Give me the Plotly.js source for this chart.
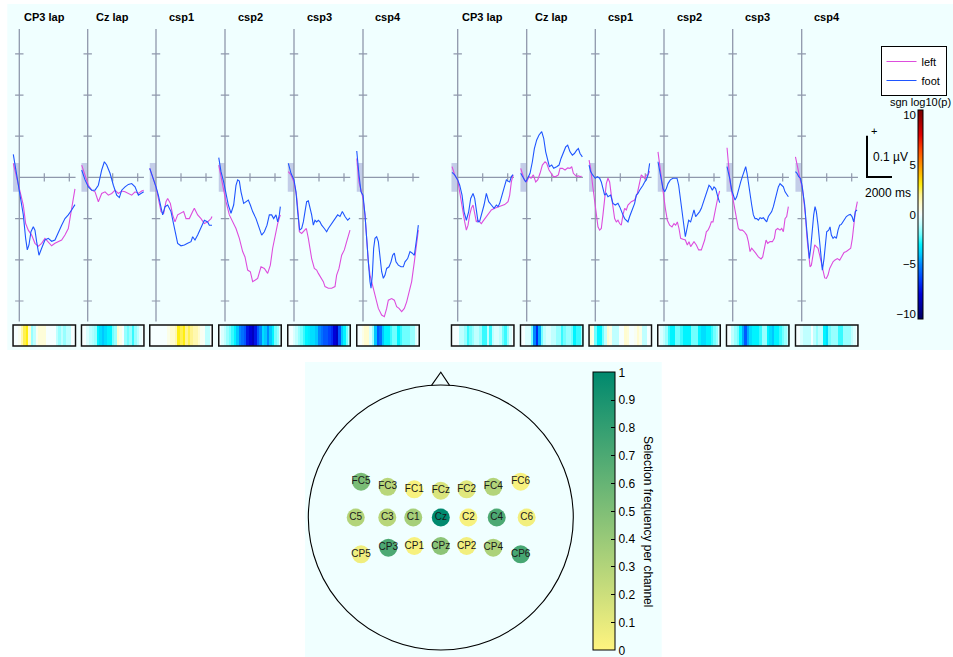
<!DOCTYPE html>
<html><head><meta charset="utf-8">
<script src="https://cdn.plot.ly/plotly-3.0.1.min.js"></script>
<style>html,body{margin:0;padding:0;background:#fff}#plot{width:953px;height:657px}</style>
</head><body><div id="plot"></div>
<script>
// ---------------- DATA ----------------
const panelTitles = ['CP3 lap','Cz lap','csp1','csp2','csp3','csp4','CP3 lap','Cz lap','csp1','csp2','csp3','csp4'];
const seriesNames = ['left','foot'];

// ERP curves: time (ms) and amplitude (µV)
const leftT1 = [-480,-213,53,320,507,720,987,1253,1520,1787,2053,2320,2587,2853,3120,3387,3653,3920,4053,4187,4400,4453];
const leftV1 = [0.034,0.002,-0.035,-0.067,-0.112,-0.128,-0.140,-0.160,-0.167,-0.160,-0.148,-0.156,-0.166,-0.160,-0.156,-0.152,-0.140,-0.124,-0.100,-0.075,-0.035,-0.028];
const footT1 = [-480,-213,53,320,507,640,773,933,1120,1253,1387,1573,1787,2053,2320,2587,2853,3120,3387,3653,3920,4187,4453];
const footV1 = [0.056,0.006,-0.039,-0.091,-0.148,-0.176,-0.164,-0.132,-0.120,-0.128,-0.156,-0.189,-0.172,-0.152,-0.148,-0.155,-0.152,-0.136,-0.116,-0.100,-0.091,-0.079,-0.066];

const leftT2 = [-480,-213,53,320,587,853,1120,1387,1653,1920,2187,2453,2720,2987,3253,3520,3787,4053,4320,4480];
const leftV2 = [0.030,0.006,-0.019,-0.031,-0.035,-0.059,-0.039,-0.035,-0.043,-0.039,-0.031,-0.039,-0.033,-0.035,-0.039,-0.043,-0.035,-0.039,-0.033,-0.031];
const footT2 = [-480,-213,53,320,587,853,1120,1333,1520,1787,2053,2320,2533,2720,2987,3253,3520,3787,4053,4320,4480];
const footV2 = [0.018,-0.006,-0.023,-0.031,-0.031,-0.019,0.018,0.038,0.030,0.010,-0.019,-0.043,-0.049,-0.031,-0.023,-0.017,-0.015,-0.023,-0.043,-0.039,-0.035];

const leftT3 = [-500,-267,0,187,400,613,800,933,1147,1333,1520,1733,2000,2213,2400,2667,2933,3067,3333,3600,3867,4133,4400,4480];
const leftV3 = [0.022,0.002,-0.023,-0.051,-0.083,-0.087,-0.059,-0.051,-0.063,-0.091,-0.108,-0.091,-0.087,-0.083,-0.100,-0.100,-0.083,-0.075,-0.091,-0.100,-0.112,-0.108,-0.100,-0.095];
const footT3 = [-500,-267,0,187,400,533,720,933,1200,1413,1600,1733,2000,2267,2533,2800,2933,3120,3333,3600,3867,4133,4267,4480];
const footV3 = [0.022,0.002,-0.023,-0.043,-0.075,-0.091,-0.071,-0.067,-0.083,-0.116,-0.136,-0.160,-0.166,-0.164,-0.160,-0.156,-0.144,-0.152,-0.140,-0.124,-0.104,-0.108,-0.116,-0.116];

const leftT4 = [-500,-320,-107,80,347,613,880,1147,1413,1600,1813,2027,2213,2427,2613,2880,3147,3413,3627,3813,4000,4213,4427];
const leftV4 = [0.030,0.002,-0.023,-0.059,-0.091,-0.108,-0.124,-0.148,-0.180,-0.193,-0.225,-0.229,-0.253,-0.249,-0.245,-0.217,-0.221,-0.233,-0.213,-0.172,-0.140,-0.112,-0.091];
const footT4 = [-500,-320,-107,80,267,480,693,880,1013,1147,1280,1493,1680,1867,2027,2213,2480,2747,2933,3147,3360,3547,3733,3893,4080,4213,4347,4427];
const footV4 = [0.048,0.014,-0.011,-0.039,-0.067,-0.087,-0.067,-0.019,-0.006,-0.009,-0.035,-0.063,-0.059,-0.055,-0.067,-0.083,-0.100,-0.124,-0.140,-0.132,-0.116,-0.091,-0.091,-0.100,-0.091,-0.108,-0.091,-0.071];

const leftT5 = [-453,-240,0,213,347,427,613,827,987,1147,1280,1413,1627,1813,1947,2160,2347,2480,2747,3013,3280,3413,3600,3813,4027,4213,4480];
const leftV5 = [0.014,0.006,-0.011,-0.047,-0.091,-0.132,-0.136,-0.128,-0.124,-0.148,-0.172,-0.197,-0.221,-0.225,-0.233,-0.245,-0.253,-0.265,-0.269,-0.269,-0.265,-0.237,-0.221,-0.189,-0.176,-0.156,-0.128];
const footT5 = [-453,-240,0,160,293,453,613,747,880,1013,1147,1280,1413,1547,1680,1813,1947,2080,2213,2427,2613,2747,3013,3280,3493,3680,3867,4080,4293,4480];
const footV5 = [0.034,0.010,-0.006,-0.035,-0.083,-0.128,-0.124,-0.108,-0.083,-0.059,-0.057,-0.071,-0.091,-0.116,-0.104,-0.108,-0.104,-0.108,-0.116,-0.124,-0.132,-0.124,-0.112,-0.100,-0.091,-0.095,-0.083,-0.095,-0.104,-0.098];

const leftT6 = [-500,-427,-320,-160,0,160,293,427,560,693,827,1013,1227,1493,1707,1893,2027,2293,2507,2693,2880,3093,3307,3493,3680,3893,4107,4293,4427];
const leftV6 = [0.046,0.014,-0.011,-0.031,-0.051,-0.091,-0.156,-0.205,-0.237,-0.253,-0.269,-0.286,-0.318,-0.334,-0.338,-0.318,-0.298,-0.294,-0.298,-0.314,-0.318,-0.326,-0.318,-0.302,-0.278,-0.253,-0.205,-0.164,-0.128];
const footT6 = [-500,-427,-320,-160,0,160,293,427,560,640,747,853,960,1093,1227,1360,1493,1627,1760,1893,2080,2240,2373,2507,2640,2827,3040,3227,3360,3573,3760,3947,4107,4293,4427];
const footV6 = [0.064,0.046,0.006,-0.035,-0.043,-0.091,-0.156,-0.205,-0.253,-0.269,-0.237,-0.172,-0.148,-0.144,-0.156,-0.197,-0.229,-0.245,-0.237,-0.221,-0.217,-0.205,-0.189,-0.184,-0.205,-0.213,-0.217,-0.217,-0.205,-0.197,-0.180,-0.184,-0.189,-0.148,-0.116];

const leftT7 = [-453,-240,0,160,293,427,560,693,827,960,1093,1227,1360,1493,1627,1760,1893,2027,2160,2427,2693,2960,3227,3493,3760,4027,4160,4293,4427];
const leftV7 = [0.026,0.006,-0.006,-0.035,-0.067,-0.091,-0.108,-0.128,-0.116,-0.091,-0.075,-0.067,-0.091,-0.108,-0.104,-0.109,-0.112,-0.106,-0.100,-0.091,-0.079,-0.075,-0.071,-0.069,-0.066,-0.059,-0.043,-0.011,0.006];
const footT7 = [-453,-240,0,160,347,507,693,880,1040,1227,1360,1493,1627,1760,1893,2107,2293,2480,2693,2907,3093,3227,3360,3547,3760,3893,4027,4160,4293,4427];
const footV7 = [0.012,0.006,-0.006,-0.019,-0.043,-0.083,-0.104,-0.083,-0.051,-0.039,-0.051,-0.083,-0.108,-0.106,-0.091,-0.067,-0.039,-0.059,-0.067,-0.075,-0.067,-0.071,-0.063,-0.043,-0.019,-0.006,-0.009,-0.011,0.002,0.007];

const leftT8 = [-480,-347,-187,0,187,347,533,720,880,1067,1253,1467,1600,1787,2000,2133,2320,2533,2667,2853,3067,3280,3467,3600,3733,3867,4000,4133,4267,4400];
const leftV8 = [0.022,0.006,-0.006,-0.011,0.002,-0.002,0.006,-0.011,-0.006,0.010,0.030,0.038,0.034,0.018,0.006,0.002,0.002,0.006,0.022,0.022,0.018,0.023,0.022,0.026,0.010,0.006,0.002,0.004,0.002,0.003];
const footT8 = [-480,-347,-187,-80,80,267,453,613,800,987,1200,1360,1520,1680,1813,2000,2160,2400,2587,2747,2933,3120,3280,3467,3653,3813,4000,4133,4267,4453];
const footV8 = [0.010,0.002,-0.006,-0.011,-0.002,0.010,0.038,0.070,0.091,0.103,0.111,0.095,0.062,0.038,0.026,0.030,0.022,0.026,0.030,0.046,0.062,0.074,0.078,0.062,0.054,0.058,0.066,0.070,0.058,0.050];

const leftT9 = [-500,-373,-213,-53,107,213,347,480,613,747,880,1013,1147,1280,1413,1547,1680,1813,1947,2080,2213,2347,2480,2613,2880,3147,3360,3547,3680,3813,3947,4080,4213,4347];
const leftV9 = [0.042,0.022,-0.019,-0.059,-0.091,-0.120,-0.128,-0.124,-0.091,-0.051,-0.015,-0.002,-0.011,-0.043,-0.075,-0.100,-0.108,-0.104,-0.112,-0.116,-0.091,-0.075,-0.079,-0.067,-0.059,-0.055,-0.039,-0.011,0.006,0.002,-0.002,0.006,0.006,0.015];
const footT9 = [-500,-373,-213,0,160,347,480,613,747,880,1013,1227,1413,1600,1813,1947,2080,2213,2347,2480,2613,2747,2880,3013,3147,3280,3413,3547,3680,3813,3947,4080,4213,4347];
const footV9 = [0.030,0.014,0.006,-0.002,0.002,-0.002,-0.011,-0.027,-0.043,-0.039,-0.047,-0.043,-0.063,-0.067,-0.063,-0.071,-0.083,-0.091,-0.100,-0.104,-0.108,-0.095,-0.083,-0.075,-0.063,-0.043,-0.039,-0.031,-0.023,-0.019,-0.011,-0.006,0.006,0.034];

const leftT10 = [-480,-347,-213,-53,107,267,453,640,800,933,1067,1200,1333,1520,1707,1867,2000,2133,2267,2400,2587,2773,2987,3120,3253,3387,3520,3653,3787,3920,4053,4187,4320,4453];
const leftV10 = [0.062,0.030,-0.011,-0.043,-0.075,-0.104,-0.116,-0.120,-0.112,-0.116,-0.108,-0.124,-0.148,-0.150,-0.152,-0.164,-0.156,-0.168,-0.160,-0.156,-0.164,-0.176,-0.176,-0.164,-0.152,-0.132,-0.128,-0.120,-0.108,-0.108,-0.091,-0.067,-0.047,-0.033];
const footT10 = [-480,-347,-213,-80,53,187,320,507,720,907,1040,1173,1307,1467,1600,1707,1840,1973,2133,2267,2400,2533,2667,2853,2987,3147,3307,3467,3600,3733,3867,4000,4133,4267,4400,4453];
const footV10 = [0.038,0.018,-0.011,-0.027,-0.035,-0.027,-0.015,-0.006,-0.002,-0.001,-0.002,-0.019,-0.051,-0.091,-0.132,-0.144,-0.124,-0.104,-0.108,-0.091,-0.079,-0.095,-0.091,-0.083,-0.075,-0.059,-0.043,-0.031,-0.019,-0.023,-0.031,-0.023,-0.027,-0.043,-0.059,-0.061];

const leftT11 = [-453,-347,-213,-80,53,187,320,453,587,773,933,1120,1253,1387,1520,1653,1840,2053,2267,2400,2533,2667,2800,2987,3173,3333,3440,3600,3787,3920,4053,4187,4320,4453];
const leftV11 = [0.072,0.030,-0.011,-0.035,-0.059,-0.083,-0.108,-0.124,-0.128,-0.128,-0.132,-0.140,-0.156,-0.180,-0.172,-0.176,-0.184,-0.193,-0.198,-0.193,-0.172,-0.152,-0.160,-0.156,-0.156,-0.148,-0.128,-0.124,-0.128,-0.124,-0.132,-0.100,-0.095,-0.071];
const footT11 = [-453,-347,-213,-80,53,187,320,507,640,773,880,1040,1147,1253,1387,1520,1653,1787,1920,2053,2187,2320,2453,2587,2720,2853,2987,3120,3253,3387,3520,3653,3787,3920,4053,4187,4320,4453];
const footV11 = [0.026,0.014,-0.006,-0.031,-0.043,-0.055,-0.047,-0.023,-0.011,0.002,0.014,0.026,0.010,-0.015,-0.039,-0.067,-0.091,-0.100,-0.100,-0.104,-0.098,-0.100,-0.098,-0.104,-0.108,-0.095,-0.087,-0.083,-0.071,-0.051,-0.039,-0.023,-0.015,-0.019,-0.023,-0.035,-0.043,-0.047];

const leftT12 = [-500,-373,-240,-80,53,160,293,427,560,667,773,907,1040,1173,1307,1440,1573,1707,1840,1973,2107,2240,2373,2507,2640,2853,3040,3227,3387,3573,3760,3920,4053,4160,4293,4453];
const leftV12 = [0.050,0.030,0.006,-0.011,-0.023,-0.051,-0.091,-0.148,-0.197,-0.217,-0.213,-0.189,-0.164,-0.168,-0.172,-0.189,-0.209,-0.233,-0.244,-0.245,-0.237,-0.221,-0.213,-0.205,-0.201,-0.197,-0.201,-0.189,-0.182,-0.180,-0.176,-0.172,-0.148,-0.116,-0.083,-0.059];
const footT12 = [-500,-373,-240,-107,0,107,240,373,507,613,720,827,960,1067,1173,1307,1440,1547,1653,1787,1893,2000,2160,2267,2373,2507,2640,2773,2907,3040,3173,3307,3440,3573,3760,3893,4027,4160,4293,4427];
const footV12 = [0.014,0.010,0.002,-0.002,-0.015,-0.035,-0.067,-0.116,-0.164,-0.197,-0.172,-0.124,-0.091,-0.071,-0.083,-0.116,-0.164,-0.205,-0.225,-0.197,-0.156,-0.132,-0.128,-0.120,-0.140,-0.148,-0.144,-0.148,-0.128,-0.116,-0.114,-0.108,-0.100,-0.095,-0.091,-0.090,-0.095,-0.108,-0.083,-0.079];

// significance strips: sgn log10(p) per 200 ms bin (bin centres in ms)
const stripTimes = [-400,-200,0,200,400,600,800,1000,1200,1400,1600,1800,2000,2200,2400,2600,2800,3000,3200,3400,3600,3800,4000,4200,4400];
const strip1  = [0,0,0.3,1.5,2.5,3,1,-1.5,-1,0.3,0.8,0.8,0.8,0,0,0,0,-1,-1.5,-1,-1.5,-1,-1,0,0];
const strip2  = [0,0,-0.5,-1,-1.2,-1.5,-3,-3.5,-4,-3.5,-3,-3,-2,-1.5,1,0.5,0,-1.5,-2,-1.5,-2.5,-1.5,-1,-0.3,0];
const strip3  = [0,0,0,0,0,0,0,0.5,1,1,1.5,3,2.5,3,2,2.5,2,1.5,1.5,1,0.3,0.2,-1,-1,0];
const strip4  = [0,-0.5,-1,-1.5,-2,-2.5,-3,-4,-5,-5.5,-6,-7.5,-8,-8.5,-7.5,-6,-5,-3.5,-4,-5,-4,-3,-2,-1.5,-0.5];
const strip5  = [0,0,-0.5,-1,-1.5,-2,-2.5,-3,-3.2,-3.5,-3.5,-4,-5,-5.5,-6,-6,-6.5,-7,-8,-8.5,-6,-4,-3,-2,-1];
const strip6  = [0,0,0.5,1,1,-0.5,-1.5,-4,-6,-5.5,-4,-3,-3,-2.5,-2,-2,-3,-2.5,-2,-2,-2,-1.5,-1.5,-0.5,0];
const strip7  = [0,0,0,-1,-1,-1.5,-2.5,-2,-1.5,-1,-1,-1.5,-2.5,-2.5,-1,-2.5,-1,-0.5,-0.5,-1,-2,-2.5,-1.5,-0.5,0];
const strip8  = [0,0,-0.5,-0.5,-2,-5,-7,-4.5,-2,-1,-0.5,-0.5,-1,-1,-1.5,-1.5,-2.5,-2,-1.5,-1.5,-2,-3,-2.5,-2.5,-1.5];
const strip9  = [0.8,0.5,-2,-3,-3,-2,-1,1,0.5,-1,-1,-1,0,0,1,0.8,0,0,0.3,1,0.5,-1,-1,0,0];
const strip10 = [0,-0.5,-1,-1.5,-2.5,-3,-3,-2,-2,-2.5,-3,-3,-3,-2,-2,-2,-3,-3.5,-3.5,-3,-3,-2.5,-2,-1.5,-0.5];
const strip11 = [0,0,-1,-1.5,-2,-3,-4.5,-6,-4.5,-3.5,-3,-3,-3,-2.5,-1.5,-1.5,-3,-3.5,-4,-3,-3,-2.5,-2,-1.5,-1];
const strip12 = [0,0,-0.5,-1,-1,-1,0,-1,-1.5,-1,-1,-3,-3.5,-2,-1.5,-1.5,-1.5,-2.5,-2.5,-1.5,-1.5,-1.5,-1,-0.5,0];
const sigTicks = [-10,-5,0,5,10];
const sigTickText = ['\u221210','\u22125','0','5','10'];

// scale bar
const scaleBarMs = 2000;
const scaleBarUv = 0.1;

// electrode selection frequency (head coordinates, radius 1)
const elecNames = ['FC5','FC3','FC1','FCz','FC2','FC4','FC6','C5','C3','C1','Cz','C2','C4','C6','CP5','CP3','CP1','CPz','CP2','CP4','CP6'];
const elecX = [-0.602,-0.401,-0.200,0.0,0.195,0.396,0.603,-0.642,-0.404,-0.208,0.0,0.208,0.422,0.648,-0.602,-0.396,-0.200,0.0,0.195,0.396,0.603];
const elecY = [0.270,0.232,0.213,0.202,0.213,0.232,0.270,0,0,0,0,0,0,0,-0.278,-0.228,-0.215,-0.215,-0.215,-0.228,-0.278];
const elecFreq = [0.52,0.28,0.03,0.15,0.12,0.30,0.03,0.30,0.28,0.35,1.0,0.03,0.70,0.05,0.06,0.70,0.03,0.45,0.05,0.32,0.72];
const freqTicks = [0,0.1,0.2,0.3,0.4,0.5,0.6,0.7,0.8,0.9,1];
const freqTickText = ['0','0.1','0.2','0.3','0.4','0.5','0.6','0.7','0.8','0.9','1'];

// ---------------- LAYOUT HELPERS ----------------
const W = 953, H = 657;
const fx = p => p / W;
const fy = p => 1 - p / H;
const FONT = 'Liberation Sans, Arial, Helvetica, sans-serif';
const axisCol = '#8f98ac';
const magenta = '#dd4ddd';
const blue = '#1f55ff';
const axisPx = [19.3, 87.7, 156, 225, 294, 363, 457.7, 526.7, 595.3, 664, 732.7, 801.7];
const leftT = [leftT1,leftT2,leftT3,leftT4,leftT5,leftT6,leftT7,leftT8,leftT9,leftT10,leftT11,leftT12];
const leftV = [leftV1,leftV2,leftV3,leftV4,leftV5,leftV6,leftV7,leftV8,leftV9,leftV10,leftV11,leftV12];
const footT = [footT1,footT2,footT3,footT4,footT5,footT6,footT7,footT8,footT9,footT10,footT11,footT12];
const footV = [footV1,footV2,footV3,footV4,footV5,footV6,footV7,footV8,footV9,footV10,footV11,footV12];
const strips = [strip1,strip2,strip3,strip4,strip5,strip6,strip7,strip8,strip9,strip10,strip11,strip12];
const vTicks = [-0.3,-0.2,-0.1,0.1,0.2,0.3];
const tTicks = [2000,4000];

const nz = v => (v + 10.5) / 21;
const sigScale = [
  [0,'#000060'],[nz(-10),'#000078'],[nz(-8),'#0000d8'],[nz(-6.5),'#0040ff'],
  [nz(-5),'#0088ff'],[nz(-4),'#00c8ff'],[nz(-3),'#00f4ff'],[nz(-2),'#70ffff'],
  [nz(-1),'#c0ffff'],[nz(0),'#f6ffff'],[nz(1),'#fffcd0'],[nz(2),'#fff490'],
  [nz(3),'#ffee10'],[nz(4),'#ffc000'],[nz(5),'#ff9000'],[nz(6.5),'#ff4800'],
  [nz(8),'#e00000'],[nz(10),'#880000'],[1,'#7a0000']
];
const freqScale = [[0,'#fff47f'],[1,'#00896e']];

const hidden = {showgrid:false, zeroline:false, showticklabels:false, ticks:'', showline:false, fixedrange:true};
const an = n => (n === 1 ? '' : String(n));

const layout = {
  width: W, height: H,
  margin: {l:0, r:0, t:0, b:0, pad:0},
  paper_bgcolor: '#ffffff', plot_bgcolor: 'rgba(0,0,0,0)',
  font: {family: FONT, size: 11, color: '#000'},
  hovermode: false,
  showlegend: true,
  legend: {x: fx(880.5), y: fy(46), xanchor:'left', yanchor:'top', bgcolor:'#ffffff',
           bordercolor:'#000', borderwidth:1, font:{family:FONT, size:11, color:'#000'},
           tracegroupgap:0, itemwidth:30},
  shapes: [], annotations: []
};

// background panels
layout.shapes.push({type:'rect', xref:'paper', yref:'paper', x0:fx(7.3), x1:1, y0:fy(350), y1:fy(4),
  fillcolor:'#f0ffff', line:{width:0}, layer:'below'});
layout.shapes.push({type:'rect', xref:'paper', yref:'paper', x0:fx(305), x1:fx(661.7), y0:0, y1:fy(362),
  fillcolor:'#f0ffff', line:{width:0}, layer:'below'});

const traces = [];
for (let i = 0; i < 12; i++) {
  const n = i + 1, ns = 13 + i;
  const xa = 'x' + an(n), ya = 'y' + an(n), ys = 'y' + ns;
  const a = axisPx[i];
  layout['xaxis' + an(n)] = Object.assign({}, hidden, {domain:[fx(a - 7.5), fx(a + 57.5)], range:[-600, 4600], anchor: ya});
  layout['yaxis' + an(n)] = Object.assign({}, hidden, {domain:[fy(325.7), fy(25)], range:[-0.36, 0.37], anchor: xa});
  layout['yaxis' + ns] = Object.assign({}, hidden, {domain:[fy(348.1), fy(322.9)], range:[-0.1, 1.1], anchor: xa});

  layout.shapes.push({type:'rect', xref:xa, yref:ya, x0:-500, x1:0, y0:-0.035, y1:0.035,
    fillcolor:'#c3cde8', line:{width:0}, layer:'below'});
  layout.shapes.push({type:'line', xref:xa, yref:ya, x0:0, x1:0, y0:-0.35, y1:0.36,
    line:{color:axisCol, width:1.3}, layer:'below'});
  layout.shapes.push({type:'line', xref:xa, yref:ya, x0:0, x1:4500, y0:0, y1:0,
    line:{color:axisCol, width:1.3}, layer:'below'});
  layout.shapes.push({type:'rect', xref:xa, yref:ys, x0:-500, x1:4500, y0:0, y1:1,
    line:{color:'#111', width:1.5}, fillcolor:'rgba(0,0,0,0)', layer:'above'});

  layout.annotations.push({xref:xa, yref:'paper', x:2000, y:fy(17.5), text:'<b>' + panelTitles[i] + '</b>',
    showarrow:false, font:{family:FONT, size:11, color:'#000'}, xanchor:'center', yanchor:'middle'});

  traces.push({type:'scatter', mode:'markers', xaxis:xa, yaxis:ya, x:vTicks.map(() => 0), y:vTicks,
    marker:{symbol:'line-ew', size:6, line:{width:1.2, color:axisCol}}, showlegend:false, hoverinfo:'skip'});
  traces.push({type:'scatter', mode:'markers', xaxis:xa, yaxis:ya, x:tTicks, y:tTicks.map(() => 0),
    marker:{symbol:'line-ns', size:6, line:{width:1.2, color:axisCol}}, showlegend:false, hoverinfo:'skip'});

  traces.push({type:'scatter', mode:'lines', xaxis:xa, yaxis:ya, x:leftT[i], y:leftV[i], name:seriesNames[0],
    line:{color:magenta, width:1.1}, showlegend: i === 0, legendgroup:'left'});
  traces.push({type:'scatter', mode:'lines', xaxis:xa, yaxis:ya, x:footT[i], y:footV[i], name:seriesNames[1],
    line:{color:blue, width:1.1}, showlegend: i === 0, legendgroup:'foot'});

  const hm = {type:'heatmap', xaxis:xa, yaxis:ys, x:stripTimes, y:[0.5], z:[strips[i]],
    zmin:-10.5, zmax:10.5, colorscale:sigScale, zsmooth:false, showscale: i === 0, hoverinfo:'skip'};
  if (i === 0) {
    hm.colorbar = {x:fx(918), xanchor:'left', xpad:0, y:fy(110), yanchor:'top', ypad:0,
      len:209, lenmode:'pixels', thickness:5, thicknessmode:'pixels',
      outlinewidth:1, outlinecolor:'#000', showticklabels:false, ticks:''};
  }
  traces.push(hm);
}

// label axis for the significance colour bar
layout.xaxis25 = Object.assign({}, hidden, {domain:[fx(918), fx(923)], range:[0,1], anchor:'y25'});
layout.yaxis25 = Object.assign({}, hidden, {domain:[fy(319), fy(110)], range:[-10.5,10.5], anchor:'x25',
  side:'left', showticklabels:true, tickmode:'array', tickvals:sigTicks, ticktext:sigTickText,
  tickfont:{family:FONT, size:11.5, color:'#000'}, ticklabelstandoff:1});
traces.push({type:'scatter', mode:'markers', xaxis:'x25', yaxis:'y25', x:[null], y:[null], showlegend:false, hoverinfo:'skip'});
layout.annotations.push({xref:'paper', yref:'paper', x:fx(920), y:fy(102), text:'sgn log10(p)', showarrow:false,
  font:{family:FONT, size:11, color:'#000'}, xanchor:'center', yanchor:'middle'});

// scale bar
layout.xaxis26 = Object.assign({}, hidden, {domain:[fx(864.5), fx(897)], range:[-200, 2400], anchor:'y26'});
layout.yaxis26 = Object.assign({}, hidden, {domain:[fy(181.1), fy(131.7)], range:[-0.01, 0.11], anchor:'x26'});
traces.push({type:'scatter', mode:'lines', xaxis:'x26', yaxis:'y26', x:[0, 0, scaleBarMs], y:[scaleBarUv, 0, 0],
  line:{color:'#000', width:2}, showlegend:false, hoverinfo:'skip'});
layout.annotations.push({xref:'paper', yref:'paper', x:fx(873.5), y:fy(130.5), text:'+', showarrow:false,
  font:{family:FONT, size:11, color:'#000'}, xanchor:'center', yanchor:'middle'});
layout.annotations.push({xref:'paper', yref:'paper', x:fx(870.5), y:fy(156.5), text:'0.1 \u00b5V', showarrow:false,
  font:{family:FONT, size:12, color:'#000'}, xanchor:'left', yanchor:'middle'});
layout.annotations.push({xref:'paper', yref:'paper', x:fx(887.5), y:fy(192.5), text:'2000 ms', showarrow:false,
  font:{family:FONT, size:12, color:'#000'}, xanchor:'center', yanchor:'middle'});

// head plot
layout.xaxis27 = Object.assign({}, hidden, {domain:[fx(305), fx(577)], range:[-1.025, 1.028], anchor:'y27'});
layout.yaxis27 = Object.assign({}, hidden, {domain:[fy(652), fy(365)], range:[-1.015, 1.151], anchor:'x27'});
layout.shapes.push({type:'circle', xref:'x27', yref:'y27', x0:-1, x1:1, y0:-1, y1:1,
  line:{color:'#000', width:1.1}, fillcolor:'rgba(0,0,0,0)', layer:'below'});
layout.shapes.push({type:'path', xref:'x27', yref:'y27', path:'M -0.07 0.997 L 0 1.097 L 0.066 0.997',
  line:{color:'#000', width:1.1}, fillcolor:'rgba(0,0,0,0)', layer:'below'});
traces.push({type:'scatter', mode:'markers+text', xaxis:'x27', yaxis:'y27', x:elecX, y:elecY, text:elecNames,
  textposition:'middle center', textfont:{family:FONT, size:10, color:'#1a1a1a'},
  marker:{size:18, color:elecFreq, cmin:0, cmax:1, colorscale:freqScale, line:{width:0}, showscale:true,
    colorbar:{x:fx(593.3), xanchor:'left', xpad:0, y:fy(372.3), yanchor:'top', ypad:0,
      len:278, lenmode:'pixels', thickness:22, thicknessmode:'pixels', outlinewidth:1, outlinecolor:'#000',
      tickmode:'array', tickvals:freqTicks, ticktext:freqTickText, ticks:'inside', ticklen:4, tickcolor:'#000',
      ticklabeloverflow:'allow',
      tickfont:{family:FONT, size:12, color:'#000'}}},
  showlegend:false, hoverinfo:'skip', cliponaxis:false});
layout.annotations.push({xref:'paper', yref:'paper', x:fx(648), y:fy(521), text:'Selection frequency per channel',
  textangle:90, showarrow:false, font:{family:FONT, size:12, color:'#000'}, xanchor:'center', yanchor:'middle'});

Plotly.newPlot('plot', traces, layout, {displayModeBar:false, staticPlot:true});
</script></body></html>
